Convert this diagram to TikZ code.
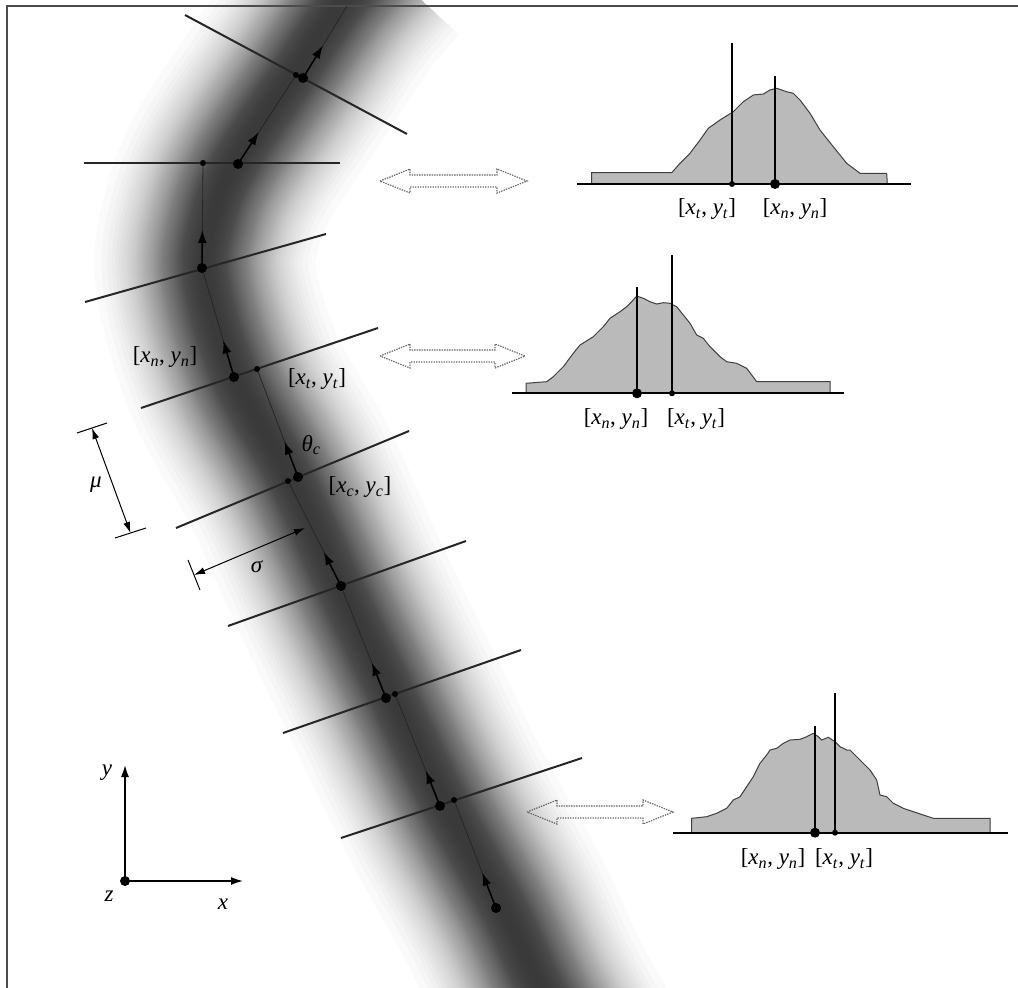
\documentclass[tikz,border=0pt]{standalone}
\usepackage{fontspec}
\setmainfont{Liberation Serif}
\usetikzlibrary{arrows.meta,calc}
\newcommand{\pxy}[1]{[\textit{x}\textsubscript{\textit{#1}}, \textit{y}\textsubscript{\textit{#1}}]}
\begin{document}
\begin{tikzpicture}[x=1pt,y=-1pt,
  lbl/.style={font=\fontsize{23}{27}\selectfont, inner sep=0pt},
  xsec/.style={draw=black!85, line width=2pt},
  track/.style={draw=black!85, line width=0.8pt},
  dirarrow/.style={draw=black, line width=1.6pt, -{Latex[length=13pt,width=9pt]}},
  bigdot/.style={circle, fill=black, inner sep=0pt, minimum size=10pt},
  smalldot/.style={circle, fill=black, inner sep=0pt, minimum size=6pt},
  hist/.style={draw=black!75, line width=1pt, fill=black!27},
  histline/.style={draw=black, line width=2pt},
  dbl/.style={draw=black!60, line width=1.2pt, dash pattern=on 1.4pt off 1.1pt},
  dimarrow/.style={draw=black, line width=1pt, {Latex[length=11pt,width=7pt]}-{Latex[length=11pt,width=7pt]}},
  tick/.style={draw=black, line width=1pt},
  axisarrow/.style={draw=black, line width=1.5pt, -{Latex[length=12pt,width=8pt]}},
]
\useasboundingbox (0,0) rectangle (1018,988);
% ---- blurred vessel (stacked translucent strokes, gaussian profile) ----
\begin{scope}
\clip (0,0) rectangle (1018,988);
\pgfmathsetmacro{\qa}{0.98008}
\pgfmathsetmacro{\Dmax}{1-\qa^80}
\foreach \k in {2,...,79}{
  \pgfmathsetmacro{\Dk}{1-\qa^\k}
  \pgfmathsetmacro{\lw}{2*45*sqrt(2*ln(\Dmax/\Dk))}
  \draw[black, opacity=0.01992, line width=\lw pt, line cap=butt, line join=round]
    plot[smooth, tension=0.6] coordinates {(580,1060) (540,987) (504,910) (447,807) (393,697) (339,585) (290,477) (235,377) (206,280) (212,220) (235,163) (292,77) (340,5) (378,-40)};
}
\end{scope}
% ---- frame ----
\draw[black!70, line width=1.5pt] (7,988) -- (7,6) -- (1018,6);
% ---- cross-section lines ----
\coordinate (L1a) at (185,15);  \coordinate (L1b) at (407,134);
\coordinate (L2a) at (84,163);  \coordinate (L2b) at (340,163);
\coordinate (L3a) at (85,302);  \coordinate (L3b) at (326,234);
\coordinate (L4a) at (141,408); \coordinate (L4b) at (378,328);
\coordinate (L5a) at (176,528); \coordinate (L5b) at (409,431);
\coordinate (L6a) at (228,626); \coordinate (L6b) at (466,541);
\coordinate (L7a) at (283,733); \coordinate (L7b) at (521,650);
\coordinate (L8a) at (341,838); \coordinate (L8b) at (582,758);
\foreach \i in {1,...,8}{\draw[xsec] (L\i a) -- (L\i b);}
% ---- track points ----
\coordinate (pS) at (496,908);
\coordinate (pb8) at (440,806); \coordinate (pt8) at (454,800);
\coordinate (pb7) at (386,698); \coordinate (pt7) at (395,694);
\coordinate (pb6) at (341,586);
\coordinate (pb5) at (298,477); \coordinate (pt5) at (288,481);
\coordinate (pb4) at (234,377); \coordinate (pt4) at (257,369);
\coordinate (pb3) at (202,268);
\coordinate (pb2) at (238,164); \coordinate (pt2) at (203,163);
\coordinate (pb1) at (303,78);  \coordinate (pt1) at (296,75);
\coordinate (pend) at (347,6);
% thin track
\draw[track] (pS) -- (pt8);
\draw[track] (pb8) -- (pt7);
\draw[track] (pb7) -- (pb6);
\draw[track] (pb6) -- (pt5);
\draw[track] (pb5) -- (pt4);
\draw[track] (pb4) -- (pb3);
\draw[track] (pb3) -- (pt2);
\draw[track] (pb2) -- (pt1);
\draw[track] (pb1) -- (pend);
% direction arrows
\draw[dirarrow] (pS) -- ($(pS)!38pt!(pt8)$);
\draw[dirarrow] (pb8) -- ($(pb8)!38pt!(pt7)$);
\draw[dirarrow] (pb7) -- ($(pb7)!38pt!(pb6)$);
\draw[dirarrow] (pb6) -- ($(pb6)!38pt!(pt5)$);
\draw[dirarrow] (pb5) -- ($(pb5)!38pt!(pt4)$);
\draw[dirarrow] (pb4) -- ($(pb4)!38pt!(pb3)$);
\draw[dirarrow] (pb3) -- ($(pb3)!38pt!(pt2)$);
\draw[dirarrow] (pb2) -- ($(pb2)!38pt!(pt1)$);
\draw[dirarrow] (pb1) -- ($(pb1)!38pt!(pend)$);
% dots
\node[bigdot] (S) at (pS) {};
\foreach \i in {1,...,8}{\node[bigdot] (B\i) at (pb\i) {};}
\foreach \i in {1,2,4,5,7,8}{\node[smalldot] (T\i) at (pt\i) {};}
% labels on track
\node[lbl] (lxn) at (165,357) {\pxy{n}};
\node[lbl] (lxt) at (317,379) {\pxy{t}};
\node[lbl] (lth) at (311,445) {\textit{θ}\textsubscript{\textit{c}}};
\node[lbl] (lxc) at (360,487) {\pxy{c}};
% mu dimension
\coordinate (m1a) at (77,433); \coordinate (m1b) at (107,423);
\coordinate (m2a) at (115,538); \coordinate (m2b) at (146,528);
\draw[tick] (m1a) -- (m1b);
\draw[tick] (m2a) -- (m2b);
\draw[dimarrow] ($(m1a)!0.5!(m1b)$) -- ($(m2a)!0.5!(m2b)$);
\node[lbl] (lmu) at (96,485) {\textit{μ}};
% sigma dimension
\coordinate (s1a) at (188,560); \coordinate (s1b) at (200,590);
\coordinate (s2) at (305,528);
\draw[tick] (s1a) -- (s1b);
\draw[dimarrow] ($(s1a)!0.5!(s1b)$) -- (s2);
\node[lbl] (lsig) at (257,567) {\textit{σ}};
% ---- double arrows ----
\foreach \xl/\xr/\yc in {380/527/181, 380/525/356, 527/673/812}{
  \draw[dbl] (\xl,\yc) -- (\xl+30,\yc-12) -- (\xl+30,\yc-6) -- (\xr-30,\yc-6) -- (\xr-30,\yc-12)
    -- (\xr,\yc) -- (\xr-30,\yc+12) -- (\xr-30,\yc+6) -- (\xl+30,\yc+6) -- (\xl+30,\yc+12) -- cycle;
}
% ---- histogram 1 ----
\draw[hist] (591.7,184) -- (591.7,172.7) -- (671.7,172.7) -- (680,163.3) -- (690,153.3) -- (700,140) -- (708.3,128.3) -- (720,120) -- (733.3,111.7) -- (743.3,101.7) -- (753.3,95) -- (763.3,94) -- (770,90) -- (776.7,88.3) -- (786.7,91.7) -- (793.3,93.3) -- (800,100) -- (810,113.3) -- (820,130) -- (833.3,146.7) -- (846.7,163.3) -- (860,173.3) -- (886.7,173.3) -- (887.3,184) -- cycle;
\coordinate (h1a) at (577,184); \coordinate (h1b) at (911,184);
\draw[histline] (h1a) -- (h1b);
\coordinate (h1t) at (732,184); \coordinate (h1tt) at (732,43);
\coordinate (h1n) at (775,184); \coordinate (h1nt) at (775,76);
\draw[histline] (h1t) -- (h1tt);
\draw[histline] (h1n) -- (h1nt);
\node[smalldot] (H1T) at (h1t) {};
\node[bigdot] (H1N) at (h1n) {};
\node[lbl] (h1lt) at (707,209) {\pxy{t}};
\node[lbl] (h1ln) at (795,209) {\pxy{n}};
% ---- histogram 2 ----
\draw[hist] (526,393.3) -- (526,383.3) -- (546.7,381.7) -- (553.3,376.7) -- (563.3,366.7) -- (573.3,353.3) -- (580,345) -- (593.3,336.7) -- (603.3,326.7) -- (610,318.3) -- (620,311.7) -- (626.7,306.7) -- (631.7,301.7) -- (636.7,296) -- (643.3,298.3) -- (650,301.7) -- (656.7,304) -- (663.3,302.7) -- (670,303.3) -- (676.7,306.7) -- (683.3,315) -- (690,323.3) -- (696.7,335) -- (703.3,338.3) -- (710,346.7) -- (720,356.7) -- (726.7,361.7) -- (736.7,363.3) -- (746.7,368.3) -- (756.7,381.7) -- (830,381.7) -- (830,393.3) -- cycle;
\coordinate (h2a) at (512,393.3); \coordinate (h2b) at (844,393.3);
\draw[histline] (h2a) -- (h2b);
\coordinate (h2n) at (637,393.3); \coordinate (h2nt) at (637,287);
\coordinate (h2t) at (672,393.3); \coordinate (h2tt) at (672,255);
\draw[histline] (h2n) -- (h2nt);
\draw[histline] (h2t) -- (h2tt);
\node[bigdot] (H2N) at (h2n) {};
\node[smalldot] (H2T) at (h2t) {};
\node[lbl] (h2ln) at (616,419) {\pxy{n}};
\node[lbl] (h2lt) at (696,419) {\pxy{t}};
% ---- histogram 3 ----
\draw[hist] (691.7,832.7) -- (691.7,818.3) -- (706.7,816.7) -- (716.7,813.3) -- (726.7,808.3) -- (733.3,800) -- (740,796.7) -- (746.7,786.7) -- (753.3,776.7) -- (760,763.3) -- (766.7,755) -- (770,750) -- (776.7,748.3) -- (783.3,743.3) -- (790,740) -- (800,739.3) -- (806.7,736.7) -- (813.3,733.3) -- (818.3,736.7) -- (821.7,740) -- (828.3,737.3) -- (835,741.7) -- (840,746.7) -- (846.7,750) -- (850,750) -- (856.7,756.7) -- (863.3,763.3) -- (870,770) -- (876.7,780) -- (880,795) -- (886.7,796.7) -- (893.3,803.3) -- (903.3,808.3) -- (913.3,811.7) -- (923.3,815) -- (933.3,818.3) -- (990,818.3) -- (990,832.7) -- cycle;
\coordinate (h3a) at (673,832.7); \coordinate (h3b) at (1008,832.7);
\draw[histline] (h3a) -- (h3b);
\coordinate (h3n) at (815,832.7); \coordinate (h3nt) at (815,726);
\coordinate (h3t) at (835,832.7); \coordinate (h3tt) at (835,693);
\draw[histline] (h3n) -- (h3nt);
\draw[histline] (h3t) -- (h3tt);
\node[bigdot] (H3N) at (h3n) {};
\node[smalldot] (H3T) at (h3t) {};
\node[lbl] (h3ln) at (773,859) {\pxy{n}};
\node[lbl] (h3lt) at (844,859) {\pxy{t}};
% ---- axes ----
\coordinate (O) at (125,881);
\coordinate (Ay) at (125,765);
\coordinate (Ax) at (243,881);
\draw[axisarrow] (O) -- (Ay);
\draw[axisarrow] (O) -- (Ax);
\node[bigdot] (Od) at (O) {};
\node[lbl] (ly) at (107,773) {\textit{y}};
\node[lbl] (lz) at (109,896) {\textit{z}};
\node[lbl] (lx) at (223,904) {\textit{x}};
\end{tikzpicture}
\end{document}
